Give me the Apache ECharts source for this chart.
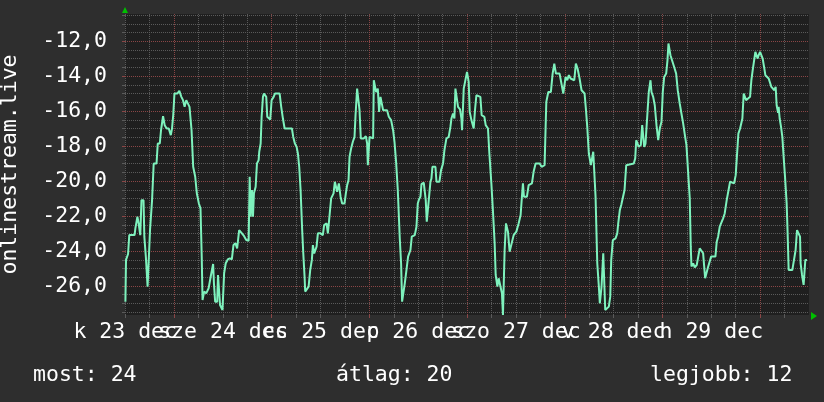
<!DOCTYPE html>
<html><head><meta charset="utf-8">
<script src="https://cdn.jsdelivr.net/npm/echarts@6.0.0/dist/echarts.min.js"></script>
<style>html,body{margin:0;padding:0;background:#2e2e2e;}#c{width:824px;height:402px;}</style>
</head><body><div id="c"></div>
<script>
// hours since 23 Dec 00:00
const times = [
12.05,12.2,12.7,13.0,14.3,14.5,15.0,15.3,15.7,16.0,
16.5,16.7,17.1,17.5,17.9,18.1,18.6,19.0,19.7,20.0,
20.5,20.8,21.3,21.7,22.2,22.7,23.2,23.5,23.8,24.1,
24.8,25.3,25.8,26.2,26.6,27.0,27.4,27.8,28.3,28.7,
29.2,29.6,30.1,30.5,30.8,31.0,31.4,31.9,32.5,33.0,
33.6,33.8,34.1,34.6,34.8,35.1,35.3,35.9,36.1,36.3,
36.7,37.2,37.7,38.2,38.6,39.1,39.5,40.0,
40.52,41.18,41.74,42.33,42.58,42.82,43.14,43.39,43.63,44.05,
44.37,44.78,44.93,45.28,45.52,45.84,46.09,46.65,46.90,47.24,
47.63,47.97,48.47,48.79,49.94,50.33,50.75,51.17,52.96,53.28,
53.69,54.11,54.43,54.75,55.09,55.48,55.73,56.07,56.22,56.64,
57.06,57.45,57.86,58.11,58.43,58.77,59.02,59.34,60.00,60.56,
60.88,61.47,61.79,62.28,62.60,63.19,63.51,63.93,64.07,64.49,
64.91,65.30,65.89,66.21,66.53,66.87,67.12,67.51,67.93,68.34,
68.59,68.98,
69.33,69.57,69.89,70.63,71.12,71.44,71.61,71.85,72.03,72.52,
72.91,73.08,73.33,73.64,74.06,74.38,74.72,75.12,75.36,76.34,
76.76,77.33,77.82,78.16,78.55,78.97,79.46,79.78,80.03,80.44,
80.69,81.10,81.50,82.08,82.41,83.14,83.56,83.88,84.12,84.54,
84.79,85.35,85.84,86.09,86.33,86.58,86.99,87.24,87.48,88.22,
88.47,89.20,89.60,90.09,90.43,90.92,91.48,91.90,92.15,92.54,
92.88,93.13,93.52,93.77,94.26,94.60,94.75,95.00,95.17,95.66,
95.98,96.39,96.64,97.06,97.62,
97.94,98.28,98.77,99.26,99.58,100.25,100.57,101.13,101.47,101.96,
102.36,102.77,103.02,103.44,103.75,104.24,104.56,104.81,105.05,105.22,
105.55,106.04,106.45,106.95,107.44,108.10,108.66,109.15,109.47,109.72,
109.96,110.70,111.12,111.93,112.34,112.83,113.82,114.31,115.04,115.46,
115.95,116.59,117.01,117.42,117.82,118.72,119.21,119.63,119.95,120.20,
120.61,121.01,121.43,121.91,122.33,122.72,123.14,123.63,124.12,124.86,
125.18,125.52,125.91,
126.41,126.75,126.99,127.31,127.56,127.98,128.37,128.61,129.03,129.45,
129.77,129.94,130.43,130.82,131.17,131.41,131.81,132.47,132.89,133.13,
133.52,133.87,134.36,134.68,135.09,135.58,136.96,137.30,137.55,137.87,
138.18,138.68,139.02,139.34,139.51,139.83,140.25,140.64,141.06,141.30,
141.72,142.11,142.53,142.95,143.34,143.76,144.08,144.42,144.91,145.23,
145.47,145.72,145.96,146.45,146.87,147.36,147.75,148.24,148.73,149.08,
149.57,149.89,150.38,150.70,150.95,151.12,151.54,151.93,152.42,152.83,
153.15,153.64,153.99,154.48,154.80,155.12,155.53,155.95,157.01,157.33,
157.67,158.07,158.56,158.90,159.29,159.78,160.27,160.61,161.01,161.60,
161.99,162.33,162.65,163.07,163.39,163.63,163.96,164.20,164.54,164.94,
165.52,165.84,166.16,166.50,166.82,167.14,167.39,167.63,167.98,168.29,
168.62,168.96,169.28,169.69,170.09,170.50,170.75,171.49,171.81,172.05,
172.40,172.54,172.79,173.13,173.45,173.77,174.11,174.36,174.51,174.75,
175.00,175.34,175.90,176.39,176.71,177.06,177.45,177.80,177.94,178.29,
178.68,178.93,179.10,179.51
];
const temps = [
-26.9,-24.51,-24.17,-23.09,-23.09,-22.7,-22.04,-22.42,-23.09,-21.09,
-21.09,-23.18,-24.42,-26.04,-26.04,-22.8,-21.09,-18.99,-18.99,-17.85,
-17.85,-17.09,-16.29,-16.8,-16.99,-16.99,-17.37,-16.99,-16.23,-14.99,
-14.99,-14.84,-15.18,-15.37,-15.75,-15.37,-15.37,-15.75,-17.09,-19.18,
-19.75,-20.7,-21.28,-21.56,-24.32,-26.8,-26.32,-26.42,-26.13,-25.47,
-24.74,-25.85,-26.9,-26.9,-25.37,-25.37,-27.09,-27.37,-27.37,-25.28,
-24.7,-24.48,-24.42,-24.48,-23.66,-23.56,-23.85,-22.8,
-22.95,-23.14,-23.37,-23.41,-19.75,-22.04,-20.51,-22.04,-20.70,-20.32,
-18.99,-18.80,-18.32,-17.85,-16.32,-15.18,-14.99,-15.18,-16.32,-16.42,
-16.48,-15.37,-15.18,-14.99,-14.99,-15.75,-16.42,-16.99,-16.99,-17.47,
-17.85,-18.04,-18.42,-19.18,-20.51,-22.80,-24.04,-25.47,-26.32,-26.32,
-26.04,-25.09,-24.51,-23.66,-24.13,-24.23,-23.75,-22.99,-22.99,-23.09,
-22.51,-22.42,-22.99,-22.99,-20.99,-20.70,-20.04,-20.04,-20.61,-20.13,
-20.89,-21.28,-21.28,-20.70,-20.23,-19.94,-18.61,-18.13,-17.75,-17.47,
-16.23,-14.71,
-14.80,-15.94,-17.56,-17.56,-17.43,-17.85,-19.09,-19.09,-17.47,-17.56,
-17.56,-14.23,-14.23,-14.90,-14.71,-16.04,-15.18,-15.18,-15.94,-15.94,
-16.32,-16.51,-17.09,-17.75,-18.89,-20.51,-23.28,-24.70,-26.90,-26.90,
-25.85,-25.09,-24.32,-23.94,-23.18,-23.09,-22.61,-21.28,-21.09,-20.89,
-20.17,-20.09,-21.09,-22.32,-22.32,-21.09,-20.04,-19.85,-19.18,-19.18,
-20.04,-20.04,-19.37,-18.99,-18.23,-17.56,-17.47,-16.90,-16.42,-16.13,
-16.42,-14.71,-14.71,-15.75,-15.90,-16.42,-17.09,-15.75,-14.71,-14.61,
-13.75,-14.32,-16.04,-16.51,-16.99,
-15.94,-15.09,-14.99,-15.18,-16.23,-16.32,-16.80,-16.99,-18.42,-20.13,
-21.75,-23.56,-25.37,-26.04,-25.56,-25.56,-26.42,-27.66,-27.66,-23.94,
-22.42,-22.89,-24.04,-23.56,-23.09,-22.89,-22.42,-21.94,-20.89,-20.13,
-20.89,-20.89,-20.23,-20.13,-19.47,-18.99,-18.99,-19.18,-19.09,-15.47,
-14.90,-14.90,-13.85,-13.28,-13.85,-13.85,-13.85,-14.99,-14.99,-14.04,
-14.23,-13.94,-14.13,-14.23,-14.23,-13.28,-13.56,-14.13,-14.80,-14.99,
-15.85,-16.90,-18.42,
-19.09,-18.99,-18.32,-18.42,-20.89,-24.70,-26.04,-26.99,-26.04,-24.13,
-24.13,-27.37,-27.37,-27.18,-26.61,-24.51,-23.37,-23.28,-22.99,-22.42,
-21.66,-21.37,-21.28,-20.51,-19.09,-18.99,-18.99,-18.70,-17.66,-17.66,
-18.04,-17.94,-16.80,-16.90,-18.04,-17.85,-16.32,-14.90,-14.23,-14.90,
-15.18,-15.66,-16.80,-17.66,-16.99,-16.61,-14.90,-14.04,-13.85,-13.09,
-12.13,-12.13,-12.80,-12.89,-13.47,-13.85,-14.80,-15.56,-16.23,-16.70,
-17.47,-17.94,-18.04,-20.99,-23.75,-24.89,-24.70,-24.93,-24.80,-24.70,
-23.85,-23.75,-24.13,-25.56,-25.56,-24.99,-25.05,-24.32,-24.32,-23.47,
-23.18,-22.61,-22.61,-22.13,-21.85,-21.09,-21.09,-20.04,-20.13,-20.13,
-19.66,-19.66,-17.28,-16.99,-16.90,-16.42,-14.99,-14.99,-15.37,-15.28,
-15.18,-14.23,-13.66,-13.66,-12.61,-12.51,-12.99,-12.80,-12.61,-12.70,
-12.99,-13.47,-13.94,-14.04,-14.13,-14.23,-14.61,-14.80,-14.61,-15.66,
-16.09,-15.75,-16.42,-16.90,-17.47,-18.61,-19.75,-19.75,-21.28,-22.99,
-25.09,-25.18,-25.09,-25.09,-23.94,-22.80,-22.89,-23.18,-24.70,-25.37,
-25.94,-25.94,-24.51,-24.51
];
const dayLabelHours = [12, 36, 60, 84, 108, 132, 156];
const dayLabels = ["k 23 dec", "sze 24 dec", "cs 25 dec", "p 26 dec", "szo 27 dec", "v 28 dec", "h 29 dec"];
const yLabelValues = [-26, -24, -22, -20, -18, -16, -14, -12];
const majorX = [24, 48, 72, 96, 120, 144, 168];
const minorX = [12, 18, 30, 36, 42, 54, 60, 66, 78, 84, 90, 102, 108, 114, 126, 132, 138, 150, 156, 162, 174];
const legendTexts = ["most: 24", "átlag: 20", "legjobb: 12"];
const yTitle = "onlinestream.live";

const Y_MIN = -27.66, Y_MAX = -10.44, X_MIN = 11.95, X_MAX = 180;
const minorY = [];
for (let k = -55; k <= -21; k++) { const v = k / 2; if (v % 2 !== 0) minorY.push(v); }
// empty placeholders at both ends so the end-label overlap logic drops them and keeps the real labels
const xLabelValues = [X_MIN].concat(dayLabelHours, [X_MAX]);

const FONT = 'DejaVu Sans Mono';
const FS = 21.5;
const RED = '#8a4646';
const GRAY = '#5a5a5a';
const TXT = '#ffffff';

const chart = echarts.init(document.getElementById('c'), null, { renderer: 'canvas' });
const seriesData = times.map((t, i) => [t, temps[i]]);

function gridAxis(base, values, color, z) {
  return Object.assign({
    z: z, axisLine: { show: false },
    axisTick: { show: true, customValues: values, length: 3, lineStyle: { color: color } },
    axisLabel: { show: false },
    splitLine: { show: true, lineStyle: { color: color, type: [1, 1], width: 1 } }
  }, base);
}

chart.setOption({
  backgroundColor: '#2e2e2e',
  animation: false,
  grid: { left: 125, top: 14, right: 15, bottom: 87, show: true, backgroundColor: '#1f1f1f', borderWidth: 0, containLabel: false, outerBoundsMode: 'none' },
  xAxis: [
    gridAxis({ type: 'value', min: X_MIN, max: X_MAX, position: 'bottom' }, minorX, GRAY, 0),
    Object.assign(gridAxis({ type: 'value', min: X_MIN, max: X_MAX, position: 'bottom' }, majorX, RED, 1), {
      axisLabel: {
        show: true, customValues: xLabelValues, hideOverlap: false,
        formatter: v => { const i = dayLabelHours.indexOf(v); return i >= 0 ? dayLabels[i] : ''; },
        color: TXT, fontFamily: FONT, fontSize: FS, margin: 6
      }
    })
  ],
  yAxis: [
    gridAxis({ type: 'value', min: Y_MIN, max: Y_MAX, position: 'left' }, minorY, GRAY, 0),
    Object.assign(gridAxis({ type: 'value', min: Y_MIN, max: Y_MAX, position: 'left' }, yLabelValues, RED, 1), {
      name: yTitle, nameLocation: 'middle', nameGap: 104,
      nameTextStyle: { color: TXT, fontFamily: FONT, fontSize: FS },
      axisLabel: {
        show: true, customValues: yLabelValues,
        formatter: v => v.toFixed(1).replace('.', ','),
        color: TXT, fontFamily: FONT, fontSize: FS, margin: 18
      }
    })
  ],
  series: [{
    name: 'temp', type: 'line', xAxisIndex: 1, yAxisIndex: 1, data: seriesData,
    showSymbol: false, symbol: 'none', z: 5,
    lineStyle: { color: '#7ef2bd', width: 2 }
  }],
  graphic: [
    { type: 'polygon', shape: { points: [[122, 13], [128, 13], [125, 7]] }, style: { fill: '#00c000' } },
    { type: 'polygon', shape: { points: [[811, 312], [811, 320], [817, 316]] }, style: { fill: '#00c000' } },
    { type: 'text', x: 33, y: 375, style: { text: legendTexts[0], font: FS + 'px "DejaVu Sans Mono"', fill: TXT, verticalAlign: 'middle' } },
    { type: 'text', x: 336, y: 375, style: { text: legendTexts[1], font: FS + 'px "DejaVu Sans Mono"', fill: TXT, verticalAlign: 'middle' } },
    { type: 'text', x: 650, y: 375, style: { text: legendTexts[2], font: FS + 'px "DejaVu Sans Mono"', fill: TXT, verticalAlign: 'middle' } }
  ]
});
</script>
</body></html>
